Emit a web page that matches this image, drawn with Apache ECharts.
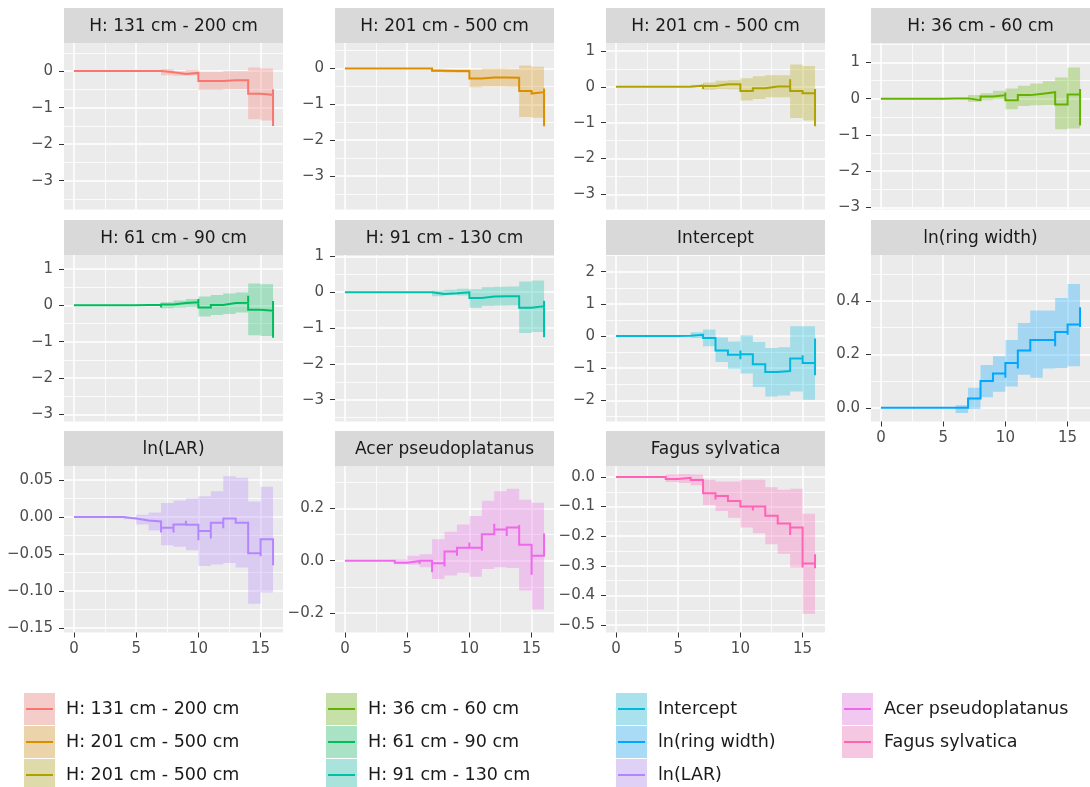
<!DOCTYPE html>
<html><head><meta charset="utf-8">
<script src="https://cdn.jsdelivr.net/npm/echarts@6/dist/echarts.min.js"></script>
<style>html,body{margin:0;padding:0;background:#fff}#chart{width:1090px;height:787px}</style>
</head><body><div id="chart"></div>
<script>
// ---------- DATA ----------
const panelTitles = ["H: 131 cm - 200 cm","H: 201 cm - 500 cm","H: 201 cm - 500 cm","H: 36 cm - 60 cm","H: 61 cm - 90 cm","H: 91 cm - 130 cm","Intercept","ln(ring width)","ln(LAR)","Acer pseudoplatanus","Fagus sylvatica"];
const panelColors = ["#F8766D","#DB8E00","#AEA200","#64B200","#00BD5C","#00C1A7","#00BADE","#00A6FF","#B385FF","#EF67EB","#FF63B6"];
const xTicks = [0,5,10,15];
const xLimits = [-0.8,16.8];
// cumulative estimate on each interval [t, t+1), t = 0..15
const est_1 = [0,0,0,0,0,0,0,-0.03,-0.08,-0.05,-0.27,-0.27,-0.25,-0.25,-0.62,-0.65];
const lo_1  = [0,0,0,0,0,0,0,-0.11,-0.13,-0.12,-0.52,-0.52,-0.50,-0.50,-1.32,-1.35];
const hi_1  = [0,0,0,0,0,0,0,0.05,0.0,0.03,-0.02,-0.02,0.0,0.0,0.10,0.07];
const spk_1 = [];
const end_1 = [-0.5,-1.5];
const est_2 = [0,0,0,0,0,0,0,-0.06,-0.07,-0.07,-0.28,-0.25,-0.25,-0.26,-0.63,-0.66];
const lo_2  = [0,0,0,0,0,0,0,-0.10,-0.11,-0.12,-0.52,-0.50,-0.50,-0.51,-1.35,-1.37];
const hi_2  = [0,0,0,0,0,0,0,-0.01,-0.02,-0.02,-0.03,0.0,0.0,-0.01,0.08,0.05];
const spk_2 = [[15,-0.70]];
const end_2 = [-0.56,-1.61];
const est_3 = [0,0,0,0,0,0,0.03,0.02,0.07,0.07,-0.12,-0.04,0.01,0.01,-0.12,-0.18];
const lo_3  = [0,0,0,0,0,0,0.0,-0.08,-0.06,-0.07,-0.38,-0.34,-0.29,-0.29,-0.87,-0.94];
const hi_3  = [0,0,0,0,0,0,0.06,0.12,0.17,0.18,0.24,0.29,0.32,0.32,0.62,0.58];
const spk_3 = [[7,-0.06],[14,0.21]];
const end_3 = [-0.06,-1.1];
const est_4 = [0,0,0,0,0,0.01,0.01,-0.04,0.06,0.10,-0.04,0.10,0.14,0.18,-0.16,0.12];
const lo_4  = [0,0,0,0,0,0,0,-0.08,-0.04,-0.02,-0.29,-0.20,-0.18,-0.17,-0.84,-0.82];
const hi_4  = [0,0,0,0,0,0.02,0.02,0.10,0.15,0.22,0.28,0.36,0.42,0.48,0.59,0.86];
const spk_4 = [[10,0.17],[14,0.22]];
const end_4 = [0.27,-0.74];
const est_5 = [0,0,0,0,0,0.01,0.01,0.02,0.06,0.08,-0.06,0.01,0.06,0.07,-0.12,-0.15];
const lo_5  = [0,0,0,0,0,0,0,-0.08,-0.06,-0.05,-0.31,-0.27,-0.24,-0.20,-0.82,-0.84];
const hi_5  = [0,0,0,0,0,0.02,0.02,0.08,0.13,0.17,0.24,0.28,0.32,0.35,0.60,0.58];
const spk_5 = [[7,-0.06],[10,0.17],[14,0.26]];
const end_5 = [0.12,-0.89];
const est_6 = [0,0,0,0,0,0,0,-0.05,-0.03,0.0,-0.16,-0.12,-0.11,-0.11,-0.43,-0.39];
const lo_6  = [0,0,0,0,0,0,0,-0.11,-0.08,-0.09,-0.43,-0.38,-0.37,-0.36,-1.14,-1.11];
const hi_6  = [0,0,0,0,0,0,0,0.04,0.07,0.10,0.08,0.14,0.15,0.16,0.30,0.33];
const spk_6 = [];
const end_6 = [-0.24,-1.26];
const est_7 = [0,0,0,0,0,0.01,0.04,-0.06,-0.45,-0.58,-0.57,-0.88,-1.12,-1.09,-0.70,-0.84];
const lo_7  = [0,0,0,0,0,0,-0.06,-0.32,-0.81,-1.02,-1.17,-1.59,-1.88,-1.85,-1.73,-1.98];
const hi_7  = [0,0,0,0,0,0.02,0.12,0.20,-0.05,-0.17,0.02,-0.19,-0.37,-0.35,0.30,0.30];
const spk_7 = [[10,-0.45],[10,-0.72],[15,-0.60]];
const end_7 = [-0.08,-1.22];
const est_8 = [0,0,0,0,0,0,0,0.035,0.100,0.128,0.168,0.214,0.253,0.253,0.283,0.311];
const lo_8  = [0,0,0,0,0,0,-0.019,-0.004,0.040,0.060,0.080,0.124,0.112,0.147,0.149,0.155];
const hi_8  = [0,0,0,0,0,0,0.010,0.075,0.160,0.193,0.253,0.317,0.364,0.364,0.410,0.463];
const spk_8 = [[6,0.007],[10,0.112],[11,0.147],[14,0.230],[15,0.273]];
const end_8 = [0.376,0.302];
const est_9 = [0,0,0,0,-0.002,-0.0045,-0.006,-0.0145,-0.010,-0.0104,-0.019,-0.0077,-0.002,-0.0077,-0.049,-0.030];
const lo_9  = [0,0,0,0,-0.003,-0.010,-0.018,-0.038,-0.040,-0.045,-0.066,-0.064,-0.062,-0.068,-0.117,-0.102];
const hi_9  = [0,0,0,0,0,0.003,0.006,0.019,0.0225,0.025,0.028,0.035,0.055,0.053,0.021,0.041];
const spk_9 = [[7,-0.021],[8,-0.021],[9,-0.005],[10,-0.0315],[11,-0.029],[12,-0.015],[13,0.0],[15,-0.053]];
const end_9 = [-0.030,-0.065];
const est_10 = [0,0,0,0,-0.008,-0.001,0.0,-0.010,0.035,0.050,0.050,0.101,0.120,0.127,0.061,0.019];
const lo_10  = [0,0,0,0,-0.013,-0.015,-0.025,-0.070,-0.057,-0.046,-0.061,-0.032,-0.025,-0.028,-0.114,-0.187];
const hi_10  = [0,0,0,0,0.005,0.019,0.025,0.082,0.111,0.139,0.171,0.230,0.266,0.276,0.234,0.222];
const spk_10 = [[6,-0.012],[7,-0.044],[8,-0.022],[9,0.019],[10,0.070],[11,0.038],[12,0.142],[13,0.095],[14,0.137],[15,-0.054]];
const end_10 = [0.104,0.019];
const est_11 = [0,0,0,0,-0.007,-0.003,-0.010,-0.055,-0.064,-0.081,-0.100,-0.100,-0.131,-0.157,-0.171,-0.292];
const lo_11  = [0,0,0,0,-0.017,-0.020,-0.028,-0.095,-0.115,-0.138,-0.171,-0.190,-0.227,-0.259,-0.306,-0.462];
const hi_11  = [0,0,0,0,0.008,0.010,0.008,-0.009,-0.015,-0.015,-0.009,-0.009,-0.035,-0.043,-0.040,-0.124];
const spk_11 = [[8,-0.076],[11,-0.113],[14,-0.196],[15,-0.306]];
const end_11 = [-0.261,-0.308];
// y scales (limits and tick labels)
const yLim_1 = [-3.79,0.77],  yTicks_1 = [-3,-2,-1,0];
const yLim_2 = [-3.93,0.71],  yTicks_2 = [-3,-2,-1,0];
const yLim_3 = [-3.42,1.22],  yTicks_3 = [-3,-2,-1,0,1];
const yLim_4 = [-3.06,1.54],  yTicks_4 = [-3,-2,-1,0,1];
const yLim_5 = [-3.19,1.38],  yTicks_5 = [-3,-2,-1,0,1];
const yLim_6 = [-3.61,1.04],  yTicks_6 = [-3,-2,-1,0,1];
const yLim_7 = [-2.66,2.52],  yTicks_7 = [-2,-1,0,1,2];
const yLim_8 = [-0.051,0.571], yTicks_8 = [0,0.2,0.4];
const yLim_9 = [-0.156,0.069], yTicks_9 = [-0.15,-0.1,-0.05,0,0.05];
const yLim_10 = [-0.275,0.363], yTicks_10 = [-0.2,0,0.2];
const yLim_11 = [-0.525,0.037], yTicks_11 = [-0.5,-0.4,-0.3,-0.2,-0.1,0];

// ---------- BUILD ----------
const P = [
 [est_1,lo_1,hi_1,spk_1,end_1,yLim_1,yTicks_1,0],
 [est_2,lo_2,hi_2,spk_2,end_2,yLim_2,yTicks_2,0],
 [est_3,lo_3,hi_3,spk_3,end_3,yLim_3,yTicks_3,0],
 [est_4,lo_4,hi_4,spk_4,end_4,yLim_4,yTicks_4,0],
 [est_5,lo_5,hi_5,spk_5,end_5,yLim_5,yTicks_5,0],
 [est_6,lo_6,hi_6,spk_6,end_6,yLim_6,yTicks_6,0],
 [est_7,lo_7,hi_7,spk_7,end_7,yLim_7,yTicks_7,0],
 [est_8,lo_8,hi_8,spk_8,end_8,yLim_8,yTicks_8,1],
 [est_9,lo_9,hi_9,spk_9,end_9,yLim_9,yTicks_9,2],
 [est_10,lo_10,hi_10,spk_10,end_10,yLim_10,yTicks_10,1],
 [est_11,lo_11,hi_11,spk_11,end_11,yLim_11,yTicks_11,1]
];
const FONT = 'DejaVu Sans';
const colLeft = [64,335,606,871], colW = 219;
const rowTop = [43,255,466], rowH = 166.5, stripH = 35;
const showXLab = [7,8,9,10];

function rgba(hex,a){const n=parseInt(hex.slice(1),16);return `rgba(${n>>16&255},${n>>8&255},${n&255},${a})`;}
function minorOf(ticks,lim){
  const st = ticks.length>1 ? ticks[1]-ticks[0] : 1; const out=[];
  for(let k=-1;k<ticks.length;k++){const v=ticks[0]+(k+0.5)*st; if(v>=lim[0]&&v<=lim[1]) out.push(+v.toFixed(6));}
  return out;
}
const grids=[],xAxes=[],yAxes=[],series=[],graphics=[];
P.forEach((p,i)=>{
  const [est,lo,hi,spk,end,lim,ticks,dec]=p;
  const r=Math.floor(i/4), c=i%4;
  const color=panelColors[i];
  grids.push({left:colLeft[c],top:rowTop[r],width:colW,height:rowH,show:true,backgroundColor:'#EBEBEB',borderWidth:0,containLabel:false,outerBoundsMode:'none'});
  const sx = showXLab.includes(i);
  xAxes.push({gridIndex:i,type:'value',min:xLimits[0],max:xLimits[1],position:'bottom',
    axisLine:{show:false,onZero:false},
    axisTick:{show:sx,customValues:xTicks,length:5,lineStyle:{color:'#333333',width:1}},
    axisLabel:{show:sx,customValues:xTicks,color:'#4D4D4D',fontSize:15,fontFamily:FONT,margin:9},
    splitLine:{show:true,lineStyle:{color:'#FFFFFF',width:1.5}}});
  xAxes.push({gridIndex:i,type:'value',min:xLimits[0],max:xLimits[1],position:'top',
    axisLine:{show:false,onZero:false},axisTick:{show:false,customValues:[2.5,7.5,12.5]},axisLabel:{show:false,customValues:[2.5,7.5,12.5]},
    splitLine:{show:true,lineStyle:{color:'#FFFFFF',width:0.8}}});
  const fmt = v=>{let s=Number(v).toFixed(dec); if(Number(s)===0) s=(0).toFixed(dec); return s.replace('-','\u2212');};
  yAxes.push({gridIndex:i,type:'value',min:lim[0],max:lim[1],position:'left',
    axisLine:{show:false,onZero:false},
    axisTick:{show:true,customValues:ticks,length:5,lineStyle:{color:'#333333',width:1}},
    axisLabel:{show:true,customValues:ticks,formatter:fmt,color:'#4D4D4D',fontSize:15,fontFamily:FONT,margin:11},
    splitLine:{show:true,lineStyle:{color:'#FFFFFF',width:1.5}}});
  const mn = minorOf(ticks,lim);
  yAxes.push({gridIndex:i,type:'value',min:lim[0],max:lim[1],position:'right',
    axisLine:{show:false,onZero:false},axisTick:{show:false,customValues:mn},axisLabel:{show:false,customValues:mn},
    splitLine:{show:true,lineStyle:{color:'#FFFFFF',width:0.8}}});
  // confidence band (step ribbon) as a polygon through the axes
  const bandData = est.map((_,t)=>[t,lo[t],hi[t]]);
  series.push({type:'custom',xAxisIndex:2*i,yAxisIndex:2*i,data:bandData,encode:{x:0,y:[1,2]},silent:true,z:2,
    renderItem:(params,api)=>{
      if(params.dataIndex!==0) return null;
      const top=[],bot=[];
      for(let t=0;t<est.length;t++){
        top.push(api.coord([t,hi[t]]),api.coord([t+1,hi[t]]));
        bot.push(api.coord([t,lo[t]]),api.coord([t+1,lo[t]]));
      }
      return {type:'polygon',shape:{points:top.concat(bot.reverse())},style:{fill:rgba(color,0.3),stroke:null}};
    }});
  // step line
  const pts=[[0,est[0]]];
  for(let t=1;t<est.length;t++){
    pts.push([t,est[t-1]]);
    spk.filter(s=>s[0]===t).forEach(s=>pts.push([t,s[1]]));
    pts.push([t,est[t]]);
  }
  const tEnd=est.length;
  pts.push([tEnd,est[tEnd-1]]); pts.push([tEnd,end[0]]); pts.push([tEnd,end[1]]);
  series.push({type:'line',xAxisIndex:2*i,yAxisIndex:2*i,data:pts,showSymbol:false,symbol:'none',silent:true,z:3,
    lineStyle:{color:color,width:2,join:'miter'}});
  // strip
  const sTop=rowTop[r]-stripH;
  graphics.push({type:'rect',shape:{x:colLeft[c],y:sTop,width:colW,height:stripH},style:{fill:'#D9D9D9'},silent:true});
  graphics.push({type:'text',x:colLeft[c]+colW/2,y:sTop+stripH/2+1,silent:true,
    style:{text:panelTitles[i],fill:'#1A1A1A',fontSize:17,fontFamily:FONT,align:'center',verticalAlign:'middle'}});
});
// legend (column-major, 3 rows)
const keyLeft=[24,326,616,842], keyTop0=693, rowStep=33, keyW=31, keyH=32;
panelTitles.forEach((name,j)=>{
  const c=Math.floor(j/3), r=j%3;
  const x=keyLeft[c], y=keyTop0+r*rowStep;
  graphics.push({type:'rect',shape:{x:x,y:y,width:keyW,height:keyH},style:{fill:'#F2F2F2'},silent:true});
  graphics.push({type:'rect',shape:{x:x,y:y,width:keyW,height:keyH},style:{fill:rgba(panelColors[j],0.3)},silent:true});
  graphics.push({type:'line',shape:{x1:x+2,y1:y+keyH/2,x2:x+keyW-2,y2:y+keyH/2},style:{stroke:panelColors[j],lineWidth:2},silent:true});
  graphics.push({type:'text',x:x+42,y:y+keyH/2,silent:true,
    style:{text:name,fill:'#1A1A1A',fontSize:17.5,fontFamily:FONT,align:'left',verticalAlign:'middle'}});
});

const chart = echarts.init(document.getElementById('chart'),null,{renderer:'canvas'});
chart.setOption({animation:false,backgroundColor:'#FFFFFF',grid:grids,xAxis:xAxes,yAxis:yAxes,series:series,graphic:{elements:graphics}});
</script></body></html>
